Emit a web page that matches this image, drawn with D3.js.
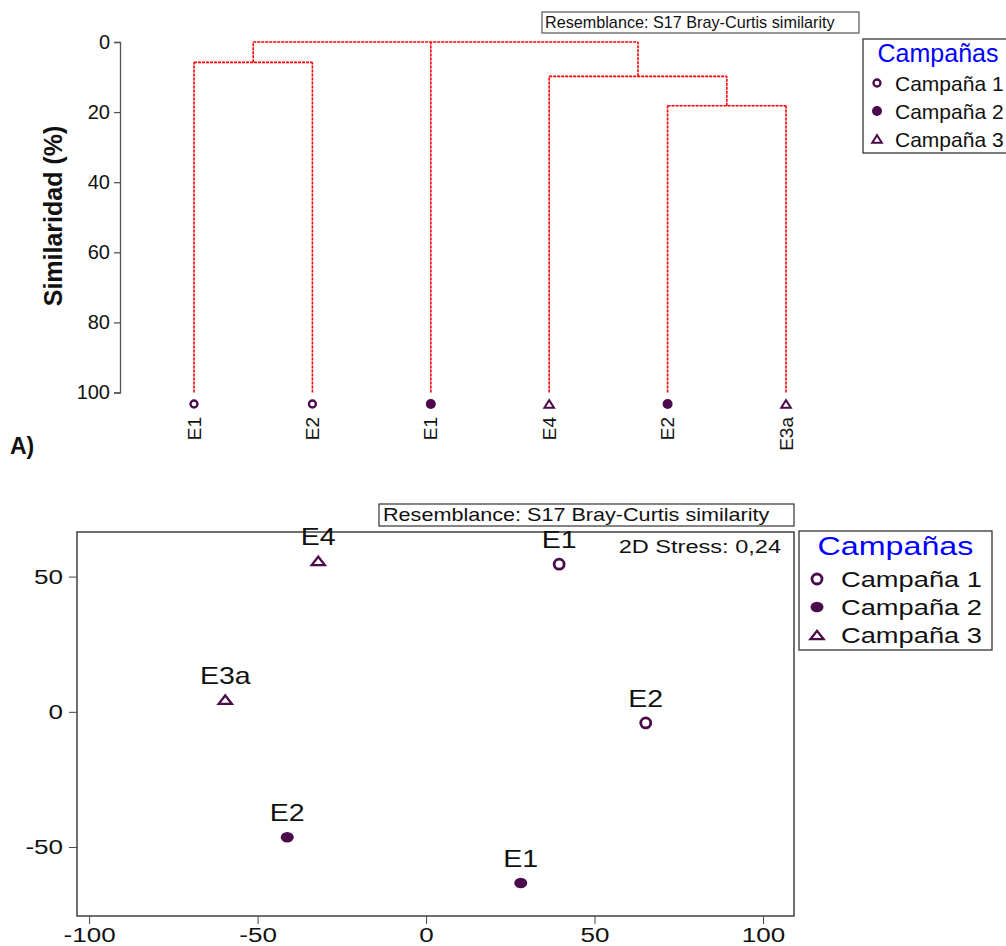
<!DOCTYPE html>
<html>
<head>
<meta charset="utf-8">
<script src="https://cdn.jsdelivr.net/npm/d3@7"></script>
<style>
  body { margin: 0; background: #fff; }
  svg { display: block; font-family: Arial, "Liberation Sans", sans-serif; }
</style>
</head>
<body>
<svg id="chart" width="1006" height="946"></svg>
<script>
// --- data ---
const campaigns = ['Campaña 1', 'Campaña 2', 'Campaña 3'];
const resemblanceText = 'Resemblance: S17 Bray-Curtis similarity';
const stressText = '2D Stress: 0,24';

// dendrogram leaves (left to right) and their campaign
const leafLabels = ['E1', 'E2', 'E1', 'E4', 'E2', 'E3a'];
const leafCampaign = [0, 0, 1, 2, 1, 2];
// merges: children are leaf indexes or 'n' + merge index, sim = similarity (%)
const merges = [
    { children: [0, 1], sim: 5.8 },
    { children: [4, 5], sim: 18.2 },
    { children: [3, 'n1'], sim: 9.8 },
    { children: ['n0', 2, 'n2'], sim: 0 }
];
const simTicks = [0, 20, 40, 60, 80, 100];

// MDS points
const mdsLabels = ['E4', 'E1', 'E3a', 'E2', 'E2', 'E1'];
const mdsCampaign = [2, 0, 2, 0, 1, 1];
const mdsX = [-32.0, 39.5, -59.6, 65.2, -41.2, 28.1];
const mdsY = [55.8, 54.6, 4.5, -4.1, -46.4, -63.3];
const mdsXTicks = [-100, -50, 0, 50, 100];
const mdsYTicks = [-50, 0, 50];

const markColor = '#4b0a4b';
const svg = d3.select('#chart');

// marker sizes for each panel
const smallMarks = { r: 3.5, rw: 2.3, fx: 5, fy: 5, tw: 4.8, th: 3.8, tsw: 2 };
const bigMarks = { r: 5, rw: 2.8, fx: 6.5, fy: 5.3, tw: 6.6, th: 4.2, tsw: 2.3 };

function drawMarker(g, type, x, y, m) {
    if (type === 0) {
        g.append('circle').attr('cx', x).attr('cy', y).attr('r', m.r)
            .attr('fill', 'none').attr('stroke', markColor).attr('stroke-width', m.rw);
    } else if (type === 1) {
        g.append('ellipse').attr('cx', x).attr('cy', y).attr('rx', m.fx).attr('ry', m.fy)
            .attr('fill', markColor);
    } else {
        g.append('path')
            .attr('d', `M${x - m.tw},${y + m.th}L${x},${y - m.th}L${x + m.tw},${y + m.th}Z`)
            .attr('fill', 'none').attr('stroke', markColor).attr('stroke-width', m.tsw);
    }
}

// text with optional horizontal stretch (the original figure is stretched sideways)
function txt(g, x, y, str, size, sx, anchor) {
    return g.append('text')
        .attr('transform', `translate(${x},${y}) scale(${sx},1)`)
        .attr('text-anchor', anchor || 'start')
        .style('font-size', size + 'px').attr('fill', '#111').text(str);
}

function drawLegend(g, o) {
    g.append('rect').attr('x', o.x).attr('y', o.y).attr('width', o.w).attr('height', o.h)
        .attr('fill', '#fff').attr('stroke', '#333').attr('stroke-width', 1.3);
    txt(g, o.x + o.w / 2, o.y + o.titleY, 'Campañas', o.titleSize, o.sx, 'middle')
        .attr('fill', '#0000ff');
    campaigns.forEach((c, i) => {
        const cy = o.y + o.rowY + o.gap * i;
        drawMarker(g, i, o.x + o.markX, cy, o.marks);
        txt(g, o.x + o.textX, cy + o.itemSize * 0.36, c, o.itemSize, o.sx);
    });
}

// ================= A) dendrogram =================
const dendro = svg.append('g');
const yDen = d3.scaleLinear().domain([0, 100]).range([42, 392.5]);
const xDen = d3.scalePoint().domain(d3.range(leafLabels.length)).range([194, 786]);

dendro.append('g')
    .attr('transform', 'translate(120,0)')
    .call(d3.axisLeft(yDen).tickValues(simTicks).tickSize(6).tickPadding(4))
    .call(g => g.select('.domain').attr('stroke', '#555').attr('stroke-width', 1.3))
    .call(g => g.selectAll('.tick line').attr('stroke', '#555').attr('stroke-width', 1.3))
    .call(g => g.selectAll('.tick text').style('font-size', '20px').attr('fill', '#111')
        .attr('font-family', 'Arial, "Liberation Sans", sans-serif'));

dendro.append('text')
    .attr('transform', 'translate(62,216) rotate(-90)')
    .attr('text-anchor', 'middle')
    .style('font-size', '25px').style('font-weight', 'bold').attr('fill', '#111')
    .text('Similaridad (%)');

// compute node positions
const nodePos = {};
function posOf(c) {
    if (typeof c === 'number') return { x: xDen(c), y: yDen(100) };
    return nodePos[c];
}
const linkPaths = [];
merges.forEach((m, i) => {
    const kids = m.children.map(posOf);
    const yN = yDen(m.sim);
    const xs = kids.map(k => k.x);
    kids.forEach(k => linkPaths.push([[k.x, k.y], [k.x, yN]]));
    linkPaths.push([[d3.min(xs), yN], [d3.max(xs), yN]]);
    nodePos['n' + i] = { x: (d3.min(xs) + d3.max(xs)) / 2, y: yN };
});
dendro.append('g').selectAll('path').data(linkPaths).enter().append('path')
    .attr('d', d => d3.line()(d))
    .attr('fill', 'none').attr('stroke', '#ff0000').attr('stroke-width', 1.6)
    .attr('stroke-dasharray', '3,1');

leafLabels.forEach((lab, i) => {
    drawMarker(dendro, leafCampaign[i], xDen(i), 404, smallMarks);
    dendro.append('text')
        .attr('transform', `translate(${xDen(i) + 6.5},417) rotate(-90)`)
        .attr('text-anchor', 'end')
        .style('font-size', '19px').attr('fill', '#111').text(lab);
});

dendro.append('text').attr('x', 10).attr('y', 454)
    .style('font-size', '23px').style('font-weight', 'bold').attr('fill', '#111').text('A)');

dendro.append('rect').attr('x', 542).attr('y', 12).attr('width', 317).attr('height', 21)
    .attr('fill', '#fff').attr('stroke', '#555').attr('stroke-width', 1.2);
txt(dendro, 545, 28, resemblanceText, 16.2, 1);

drawLegend(dendro, {
    x: 863, y: 39, w: 150, h: 114, sx: 1,
    titleY: 23, titleSize: 25, rowY: 44, gap: 28, markX: 14, textX: 32, itemSize: 21,
    marks: smallMarks
});

// ================= B) MDS =================
const mds = svg.append('g');
const sx = 1.24;
const plot = { left: 77, right: 794, top: 532, bottom: 916 };
const xM = d3.scaleLinear().domain([-103.6, 109.2]).range([plot.left, plot.right]);
const yM = d3.scaleLinear().domain([-75.5, 66.5]).range([plot.bottom, plot.top]);

mds.append('rect').attr('x', plot.left).attr('y', plot.top)
    .attr('width', plot.right - plot.left).attr('height', plot.bottom - plot.top)
    .attr('fill', 'none').attr('stroke', '#333').attr('stroke-width', 1.4);

mds.append('g').attr('transform', `translate(0,${plot.bottom})`)
    .call(d3.axisBottom(xM).tickValues(mdsXTicks).tickSize(8).tickPadding(3).tickFormat(d => String(d)))
    .call(g => g.select('.domain').remove())
    .call(g => g.selectAll('.tick line').attr('stroke', '#444'))
    .call(g => g.selectAll('.tick text').style('font-size', '21px').attr('fill', '#111')
        .attr('font-family', 'Arial, "Liberation Sans", sans-serif')
        .attr('transform', `scale(${sx},1)`));
mds.append('g').attr('transform', `translate(${plot.left},0)`)
    .call(d3.axisLeft(yM).tickValues(mdsYTicks).tickSize(8).tickPadding(6).tickFormat(d => String(d)))
    .call(g => g.select('.domain').remove())
    .call(g => g.selectAll('.tick line').attr('stroke', '#444'))
    .call(g => g.selectAll('.tick text').style('font-size', '21px').attr('fill', '#111')
        .attr('font-family', 'Arial, "Liberation Sans", sans-serif')
        .attr('x', -14 / sx).attr('transform', `scale(${sx},1)`));

mdsLabels.forEach((lab, i) => {
    const px = xM(mdsX[i]), py = yM(mdsY[i]);
    drawMarker(mds, mdsCampaign[i], px, py, bigMarks);
    txt(mds, px, py - 16, lab, 23, sx, 'middle');
});

txt(mds, 781, 553, stressText, 19, sx, 'end');

mds.append('rect').attr('x', 379).attr('y', 504).attr('width', 415).attr('height', 22)
    .attr('fill', '#fff').attr('stroke', '#333').attr('stroke-width', 1.2);
txt(mds, 383, 521, resemblanceText, 18, 1.2);

drawLegend(mds, {
    x: 799, y: 531, w: 193, h: 119, sx: sx,
    titleY: 24, titleSize: 26, rowY: 48, gap: 28, markX: 18, textX: 42, itemSize: 22,
    marks: bigMarks
});
</script>
</body>
</html>
